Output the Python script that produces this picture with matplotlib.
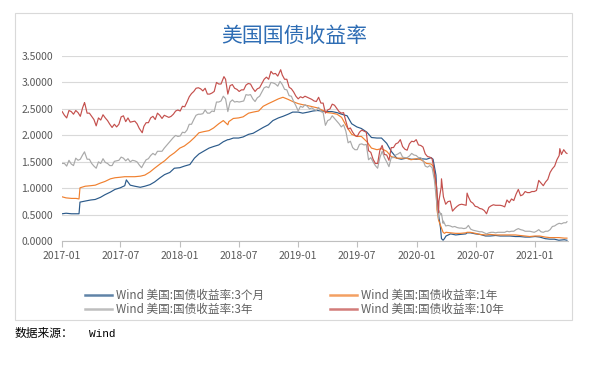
import matplotlib
matplotlib.use("Agg")
import matplotlib.pyplot as plt
from matplotlib.patches import Rectangle
import pandas as pd

plt.rcParams['font.family'] = ['Noto Sans CJK SC', 'DejaVu Sans']

# 3个月 and 1年: read about twice a month (they move smoothly)
dates = [
    "2017-01-03", "2017-01-15", "2017-02-01", "2017-02-15", "2017-02-24", "2017-02-27",
    "2017-03-15", "2017-04-01", "2017-04-15", "2017-05-01", "2017-05-15", "2017-06-01",
    "2017-06-15", "2017-07-01", "2017-07-15", "2017-07-20", "2017-08-01", "2017-08-15",
    "2017-09-01", "2017-09-15", "2017-10-01", "2017-10-15", "2017-11-01", "2017-11-15",
    "2017-12-01", "2017-12-15",
    "2018-01-01", "2018-01-15", "2018-02-01", "2018-02-15", "2018-03-01", "2018-03-15",
    "2018-04-01", "2018-04-15", "2018-05-01", "2018-05-15", "2018-05-29", "2018-06-01",
    "2018-06-15", "2018-07-01", "2018-07-15", "2018-08-01", "2018-08-15", "2018-09-01",
    "2018-09-15", "2018-10-01", "2018-10-15", "2018-11-01", "2018-11-15", "2018-12-01",
    "2018-12-15",
    "2019-01-01", "2019-01-15", "2019-02-01", "2019-02-15", "2019-03-01", "2019-03-15",
    "2019-04-01", "2019-04-15", "2019-05-01", "2019-05-15", "2019-06-01", "2019-06-15",
    "2019-07-01", "2019-07-15", "2019-08-01", "2019-08-15", "2019-09-01", "2019-09-15",
    "2019-10-01", "2019-10-15", "2019-11-01", "2019-11-15", "2019-12-01", "2019-12-15",
    "2020-01-01", "2020-01-15", "2020-02-01", "2020-02-15", "2020-02-21", "2020-03-01",
    "2020-03-04", "2020-03-09", "2020-03-15", "2020-03-18", "2020-03-23", "2020-03-27",
    "2020-04-01", "2020-04-15", "2020-05-01", "2020-05-15", "2020-06-01", "2020-06-05",
    "2020-06-15", "2020-07-01", "2020-07-15", "2020-08-01", "2020-08-15", "2020-09-01",
    "2020-09-15", "2020-10-01", "2020-10-15", "2020-11-01", "2020-11-15", "2020-12-01",
    "2020-12-15",
    "2021-01-01", "2021-01-15", "2021-02-01", "2021-02-15", "2021-03-01", "2021-03-15",
    "2021-04-01", "2021-04-09",
]

m3 = [
    0.52, 0.53, 0.52, 0.52, 0.52, 0.74, 0.76, 0.78, 0.79, 0.83, 0.88, 0.93,
    0.98, 1.01, 1.05, 1.16, 1.06, 1.04, 1.02, 1.04, 1.07, 1.12, 1.20, 1.26,
    1.30, 1.38,
    1.39, 1.42, 1.45, 1.57, 1.65, 1.70, 1.76, 1.79, 1.82, 1.88, 1.92, 1.92,
    1.95, 1.95, 1.97, 2.02, 2.04, 2.10, 2.15, 2.20, 2.28, 2.33, 2.36, 2.40,
    2.44,
    2.44, 2.42, 2.44, 2.46, 2.47, 2.46, 2.45, 2.45, 2.43, 2.40, 2.37, 2.22,
    2.16, 2.13, 2.06, 1.96, 1.95, 1.95, 1.85, 1.70, 1.57, 1.55, 1.57, 1.55,
    1.55, 1.56, 1.55, 1.58, 1.55, 1.25, 0.85, 0.50, 0.25, 0.05, 0.02, 0.05,
    0.10, 0.14, 0.12, 0.13, 0.14, 0.16, 0.16, 0.14, 0.13, 0.10, 0.10, 0.11,
    0.10, 0.10, 0.10, 0.09, 0.09, 0.08, 0.08,
    0.09, 0.08, 0.05, 0.04, 0.04, 0.02, 0.03, 0.02,
]

y1 = [
    0.84, 0.82, 0.81, 0.81, 0.80, 1.01, 1.04, 1.05, 1.06, 1.10, 1.13, 1.18,
    1.20, 1.21, 1.22, 1.22, 1.22, 1.22, 1.23, 1.25, 1.31, 1.38, 1.46, 1.52,
    1.61, 1.67,
    1.76, 1.80, 1.88, 1.96, 2.05, 2.07, 2.09, 2.14, 2.22, 2.28, 2.20, 2.26,
    2.32, 2.33, 2.35, 2.42, 2.44, 2.46, 2.55, 2.60, 2.64, 2.69, 2.72, 2.68,
    2.64,
    2.60, 2.58, 2.56, 2.54, 2.52, 2.48, 2.43, 2.42, 2.40, 2.34, 2.15, 2.02,
    1.98, 1.98, 1.88, 1.76, 1.73, 1.75, 1.70, 1.60, 1.57, 1.57, 1.57, 1.54,
    1.56, 1.54, 1.47, 1.46, 1.42, 1.05, 0.60, 0.40, 0.30, 0.25, 0.17, 0.15,
    0.17, 0.16, 0.15, 0.15, 0.16, 0.17, 0.17, 0.15, 0.13, 0.12, 0.13, 0.12,
    0.12, 0.12, 0.12, 0.12, 0.11, 0.10, 0.09,
    0.10, 0.10, 0.08, 0.07, 0.07, 0.07, 0.06, 0.06,
]

# 3年 and 10年: weekly readings (Tuesdays from 2017-01-03), plus a few daily extremes
y3_2017 = [1.47, 1.47, 1.42, 1.53, 1.46, 1.43, 1.57, 1.53, 1.55, 1.63, 1.67, 1.55, 1.55,
           1.47, 1.42, 1.38, 1.50, 1.47, 1.56, 1.49, 1.47, 1.43, 1.43, 1.51, 1.52, 1.53,
           1.59, 1.57, 1.52, 1.56, 1.50, 1.53, 1.52, 1.50, 1.44, 1.39, 1.47, 1.54, 1.56,
           1.62, 1.66, 1.63, 1.70, 1.70, 1.70, 1.76, 1.81, 1.86, 1.91, 1.96, 2.00, 1.98]
y3_2018 = [1.99, 2.06, 2.05, 2.10, 2.21, 2.21, 2.30, 2.38, 2.40, 2.40, 2.41, 2.48, 2.42,
           2.42, 2.46, 2.45, 2.63, 2.63, 2.65, 2.74, 2.69, 2.45, 2.63, 2.67, 2.63, 2.64,
           2.63, 2.64, 2.65, 2.77, 2.76, 2.77, 2.69, 2.64, 2.71, 2.74, 2.82, 2.90, 2.92,
           2.90, 3.00, 2.99, 2.97, 2.93, 3.02, 2.96, 2.87, 2.86, 2.75, 2.74, 2.64, 2.56]
y3_2019 = [2.46, 2.55, 2.53, 2.58, 2.55, 2.50, 2.52, 2.49, 2.47, 2.53, 2.45, 2.43, 2.19,
           2.28, 2.30, 2.37, 2.32, 2.27, 2.22, 2.16, 2.20, 2.08, 1.86, 1.89, 1.77, 1.73,
           1.73, 1.83, 1.84, 1.82, 1.83, 1.54, 1.58, 1.50, 1.43, 1.38, 1.58, 1.70, 1.58,
           1.50, 1.41, 1.58, 1.58, 1.63, 1.65, 1.68, 1.59, 1.58, 1.58, 1.61, 1.66, 1.63,
           1.62]
y3_2020 = [1.58, 1.58, 1.53, 1.42, 1.40, 1.43, 1.39, 1.16, 0.75, 0.58, 0.50, 0.38, 0.29,
           0.30, 0.29, 0.27, 0.28, 0.26, 0.25, 0.25, 0.24, 0.25, 0.30, 0.23, 0.21, 0.20,
           0.19, 0.18, 0.18, 0.16, 0.14, 0.16, 0.17, 0.17, 0.16, 0.17, 0.17, 0.17, 0.17,
           0.19, 0.18, 0.19, 0.19, 0.22, 0.24, 0.22, 0.21, 0.19, 0.19, 0.19, 0.18, 0.17]
y3_2021 = [0.19, 0.22, 0.18, 0.17, 0.19, 0.19, 0.22, 0.28, 0.29, 0.32, 0.34, 0.33, 0.35,
           0.35]
y3_extra_dates = ["2017-03-13", "2020-03-09", "2020-03-18", "2020-03-23", "2021-04-09"]
y3_extra = [1.69, 0.42, 0.52, 0.34, 0.37]

y10_2017 = [2.45, 2.38, 2.33, 2.47, 2.45, 2.40, 2.47, 2.43, 2.36, 2.52, 2.60, 2.42, 2.42,
            2.36, 2.30, 2.18, 2.33, 2.29, 2.39, 2.33, 2.28, 2.21, 2.15, 2.21, 2.16, 2.21,
            2.35, 2.37, 2.26, 2.33, 2.25, 2.26, 2.27, 2.22, 2.13, 2.07, 2.17, 2.24, 2.24,
            2.33, 2.36, 2.30, 2.42, 2.38, 2.32, 2.38, 2.36, 2.34, 2.36, 2.40, 2.46, 2.48]
y10_2018 = [2.46, 2.55, 2.54, 2.63, 2.73, 2.79, 2.83, 2.89, 2.90, 2.88, 2.84, 2.89, 2.78,
            2.78, 2.80, 2.83, 3.00, 2.97, 2.97, 3.08, 3.06, 2.78, 2.94, 2.96, 2.89, 2.87,
            2.83, 2.86, 2.86, 2.95, 2.98, 2.97, 2.89, 2.83, 2.88, 2.90, 2.98, 3.06, 3.10,
            3.06, 3.21, 3.16, 3.17, 3.12, 3.21, 3.14, 3.06, 3.06, 2.91, 2.88, 2.82, 2.74]
y10_2019 = [2.69, 2.73, 2.71, 2.74, 2.72, 2.70, 2.68, 2.65, 2.64, 2.72, 2.61, 2.61, 2.42,
            2.48, 2.50, 2.59, 2.57, 2.51, 2.45, 2.42, 2.43, 2.27, 2.12, 2.14, 2.06, 2.00,
            1.98, 2.06, 2.10, 2.08, 2.06, 1.71, 1.68, 1.55, 1.47, 1.47, 1.72, 1.81, 1.64,
            1.63, 1.53, 1.77, 1.77, 1.84, 1.86, 1.92, 1.79, 1.74, 1.72, 1.84, 1.89, 1.88,
            1.92]
y10_2020 = [1.82, 1.81, 1.78, 1.65, 1.60, 1.59, 1.56, 1.33, 1.02, 0.76, 1.02, 0.84, 0.70,
            0.75, 0.76, 0.57, 0.62, 0.66, 0.69, 0.70, 0.69, 0.68, 0.84, 0.75, 0.72, 0.66,
            0.65, 0.62, 0.61, 0.58, 0.52, 0.64, 0.67, 0.69, 0.68, 0.68, 0.68, 0.67, 0.65,
            0.78, 0.73, 0.80, 0.77, 0.89, 0.98, 0.86, 0.88, 0.94, 0.92, 0.92, 0.94, 0.94]
y10_2021 = [0.96, 1.15, 1.10, 1.05, 1.12, 1.17, 1.30, 1.37, 1.42, 1.54, 1.62, 1.64, 1.73,
            1.67]
y10_extra_dates = ["2017-03-13", "2017-09-07", "2018-05-17", "2018-11-08", "2020-03-09",
                   "2020-03-18", "2020-06-05", "2021-03-18", "2021-04-09"]
y10_extra = [2.62, 2.05, 3.11, 3.24, 0.54, 1.18, 0.91, 1.75, 1.66]

labels = [
    "Wind 美国:国债收益率:3个月",
    "Wind 美国:国债收益率:1年",
    "Wind 美国:国债收益率:3年",
    "Wind 美国:国债收益率:10年",
]
colors = ["#2B5A8A", "#F0802F", "#A9A9A9", "#C4504D"]
yticks = [0.0, 0.5, 1.0, 1.5, 2.0, 2.5, 3.0, 3.5]
xticks = ["2017-01", "2017-07", "2018-01", "2018-07", "2019-01",
          "2019-07", "2020-01", "2020-07", "2021-01"]


def weekly_series(values, extra_dates, extra_vals):
    idx = pd.date_range("2017-01-03", periods=len(values), freq="7D")
    s = pd.Series(values, index=idx)
    e = pd.Series(extra_vals, index=pd.to_datetime(extra_dates))
    return pd.concat([s, e]).sort_index()


s_m3 = pd.Series(m3, index=pd.to_datetime(dates))
s_y1 = pd.Series(y1, index=pd.to_datetime(dates))
s_y3 = weekly_series(y3_2017 + y3_2018 + y3_2019 + y3_2020 + y3_2021, y3_extra_dates, y3_extra)
s_y10 = weekly_series(y10_2017 + y10_2018 + y10_2019 + y10_2020 + y10_2021,
                      y10_extra_dates, y10_extra)

fig = plt.figure(figsize=(5.96, 3.67), dpi=100)
fig.patches.append(Rectangle((0.0252, 0.128), 0.9346, 0.8365, transform=fig.transFigure,
                             fill=False, edgecolor="#D9D9D9", linewidth=0.8))

ax = fig.add_axes([0.1032, 0.3425, 0.8497, 0.505])
lines = []
for s, lab, c in zip([s_m3, s_y1, s_y3, s_y10], labels, colors):
    ln, = ax.plot(s.index, s.values, color=c, linewidth=0.85, label=lab)
    lines.append(ln)

ax.set_ylim(0, 3.5)
ax.set_xlim(pd.Timestamp("2017-01-01"), pd.Timestamp("2021-04-12"))
ax.set_yticks(yticks)
ax.set_yticklabels([f"{v:.4f}" for v in yticks])
ax.set_xticks(pd.to_datetime([t + "-01" for t in xticks]))
ax.set_xticklabels(xticks)
ax.grid(axis="y", color="#D9D9D9", linewidth=0.8)
ax.set_axisbelow(True)
for sp in ["left", "right", "top"]:
    ax.spines[sp].set_visible(False)
ax.spines["bottom"].set_color("#BFBFBF")
ax.spines["bottom"].set_linewidth(0.8)
ax.tick_params(axis="y", length=0, labelsize=7.5, labelcolor="#595959", pad=6)
ax.tick_params(axis="x", length=4, color="#BFBFBF", labelsize=7.5, labelcolor="#595959", pad=3)

fig.text(0.494, 0.903, "美国国债收益率", ha="center", va="center", fontsize=15, color="#2E6DB4")

# legend rows: 3个月 / 1年 on top, 3年 / 10年 below
order = [0, 2, 1, 3]
leg = fig.legend([lines[i] for i in order], [labels[i] for i in order],
                 loc="center", bbox_to_anchor=(0.494, 0.176), ncol=2, frameon=False,
                 fontsize=8.4, handlelength=2.3, handletextpad=0.3, columnspacing=5.7,
                 labelspacing=0.12)
for t in leg.get_texts():
    t.set_color("#606060")
for h in leg.get_lines():
    h.set_linewidth(1.8)
    h.set_alpha(0.75)

fig.text(0.025, 0.09, "数据来源：", ha="left", va="center", fontsize=8.5, color="black")
fig.text(0.149, 0.09, "Wind", ha="left", va="center", fontsize=8, color="black",
         family="Liberation Mono")

fig.savefig("out.png", dpi=100)
